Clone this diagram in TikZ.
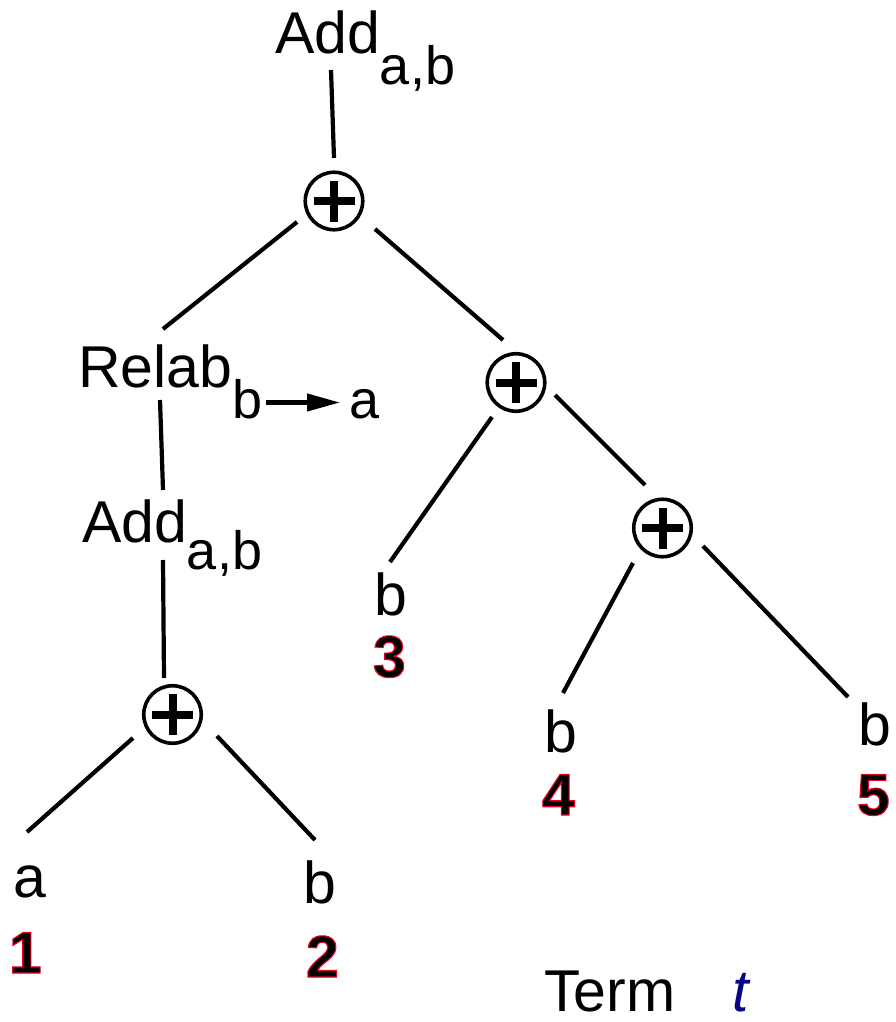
\documentclass[tikz,border=0pt]{standalone}
\usepackage{fontspec}
\setmainfont{Liberation Sans}
\usetikzlibrary{arrows.meta}
\definecolor{navyt}{rgb}{0.02,0.02,0.52}
\newcommand\redrim[1]{\special{pdf:literal direct 2 Tr 0.92 0 0.12 RG 1.1 w}#1\special{pdf:literal direct 0 Tr 0 0 0 RG}}
\newcommand\subtxt[2]{\raisebox{-#1pt}{\fontsize{54}{54}\selectfont #2}}
\tikzset{
  lbl/.style={anchor=base west, inner sep=0pt, outer sep=0pt, font=\fontsize{59}{59}\selectfont},
  sublbl/.style={lbl, font=\fontsize{54}{54}\selectfont},
  numlbl/.style={lbl, font=\fontsize{59}{59}\selectfont\bfseries},
  edge/.style={line width=4.2pt, line cap=butt},
  oplus/.style={circle, draw, line width=3.6pt, minimum size=57.5pt, inner sep=0pt,
    path picture={\draw[line width=8pt]
      ([xshift=-20.5pt]path picture bounding box.center) -- ([xshift=20.5pt]path picture bounding box.center)
      ([yshift=-20.5pt]path picture bounding box.center) -- ([yshift=20.5pt]path picture bounding box.center);}},
}
\begin{document}
\begin{tikzpicture}[x=1pt,y=-1pt]
\useasboundingbox (0,0) rectangle (895,1022);

% labels and operator nodes
\node[lbl] (addT) at (275,54) {Add\subtxt{31}{a,b}};
\node[oplus] (pT) at (334,201) {};
\node[lbl] (relab) at (78,387) {Relab\subtxt{31}{b}};
\node[sublbl] (relabA) at (349,418) {a};
\node[lbl] (addL) at (82,542) {Add\subtxt{27}{a,b}};
\node[oplus] (pL) at (172.5,714.5) {};
\node[oplus] (pR1) at (516,382.5) {};
\node[oplus] (pR2) at (662.5,528) {};

\node[lbl] (l1) at (13,897) {a};
\node[lbl] (l2) at (303,903) {b};
\node[lbl] (l3) at (374,615) {b};
\node[lbl] (l4) at (544,752) {b};
\node[lbl] (l5) at (858,745) {b};

\node[lbl] (term) at (544,1011) {Term};
\node[lbl, font=\fontsize{59}{59}\selectfont\itshape, text=navyt] (tt) at (732,1011) {t};

% relabel arrow
\draw[edge, -{Triangle[length=33pt,width=17pt]}, shorten <=4pt, shorten >=9pt]
  ([yshift=-15.5pt]relab.base east) -- ([yshift=15.5pt]relabA.base west);

% connector end points
\coordinate (addT-s) at (331,70);   \coordinate (pT-n) at (334,158);
\coordinate (pT-sw) at (297,222);   \coordinate (relab-n) at (163,329);
\coordinate (pT-se) at (375,229);   \coordinate (pR1-nw) at (503,340);
\coordinate (relab-s) at (160,400); \coordinate (addL-n) at (163,490);
\coordinate (addL-s) at (163,560);  \coordinate (pL-n) at (164,678);
\coordinate (pL-sw) at (133,738);   \coordinate (l1-n) at (27,832);
\coordinate (pL-se) at (217,736);   \coordinate (l2-n) at (315,840);
\coordinate (pR1-sw) at (492,417);  \coordinate (l3-n) at (390,562);
\coordinate (pR1-se) at (555,395);  \coordinate (pR2-nw) at (645,485);
\coordinate (pR2-sw) at (633,563);  \coordinate (l4-n) at (563,693);
\coordinate (pR2-se) at (703,546);  \coordinate (l5-n) at (848,697);

\draw[edge] (addT-s) -- (pT-n);
\draw[edge] (pT-sw) -- (relab-n);
\draw[edge] (pT-se) -- (pR1-nw);
\draw[edge] (relab-s) -- (addL-n);
\draw[edge] (addL-s) -- (pL-n);
\draw[edge] (pL-sw) -- (l1-n);
\draw[edge] (pL-se) -- (l2-n);
\draw[edge] (pR1-sw) -- (l3-n);
\draw[edge] (pR1-se) -- (pR2-nw);
\draw[edge] (pR2-sw) -- (l4-n);
\draw[edge] (pR2-se) -- (l5-n);

% leaf numbers
\node[numlbl] (n1) at (9,973) {\redrim{1}};
\node[numlbl] (n2) at (306,977) {\redrim{2}};
\node[numlbl] (n3) at (373,677) {\redrim{3}};
\node[numlbl] (n4) at (542,815) {\redrim{4}};
\node[numlbl] (n5) at (857,815) {\redrim{5}};
\end{tikzpicture}
\end{document}
